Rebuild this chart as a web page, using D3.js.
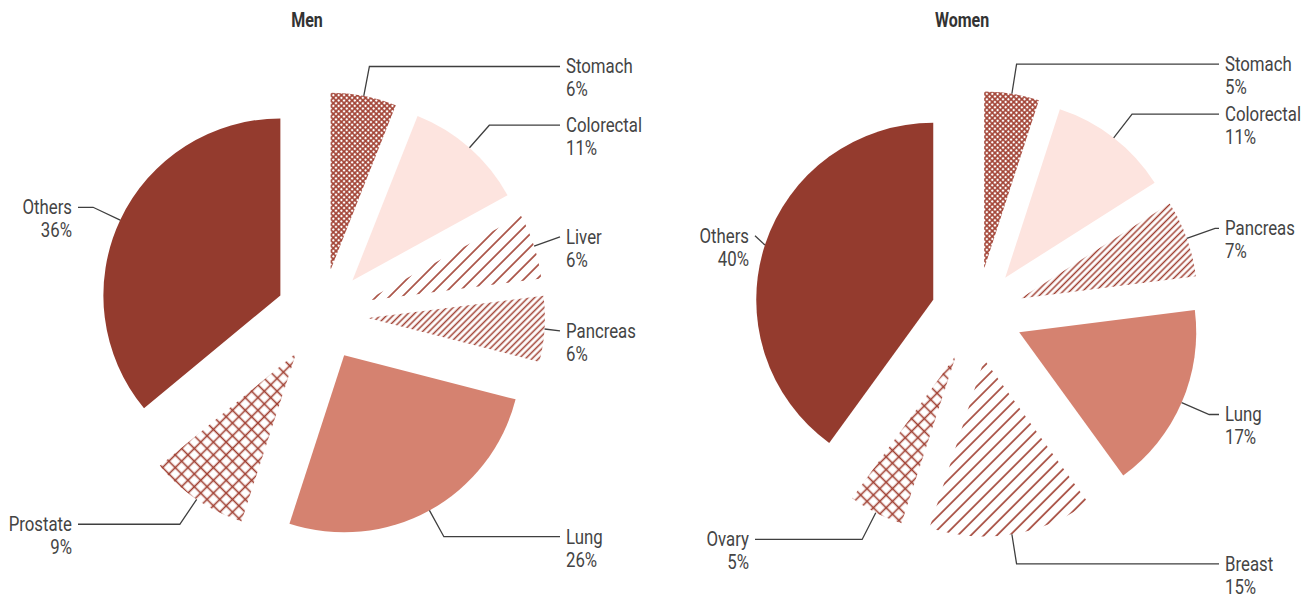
<!DOCTYPE html>
<html>
<head>
<meta charset="utf-8">
<script src="https://cdn.jsdelivr.net/npm/d3@7"></script>
<style>
  html, body { margin: 0; padding: 0; background: #fff; }
  svg { display: block; }
  text { font-family: Roboto, "Liberation Sans", sans-serif; }
</style>
</head>
<body>
<svg id="chart" width="1306" height="607"></svg>
<script>
// ---------------- data ----------------
const menCategories   = ["Stomach", "Colorectal", "Liver", "Pancreas", "Lung", "Prostate", "Others"];
const menValues       = [6, 11, 6, 6, 26, 9, 36];
const womenCategories = ["Stomach", "Colorectal", "Pancreas", "Lung", "Breast", "Ovary", "Others"];
const womenValues     = [5, 11, 7, 17, 15, 5, 40];
const panelTitles     = ["Men", "Women"];

// ---------------- styling / layout ----------------
const R = 177, EXPLODE = 46, LEG = 30;
const HATCH = "#a03f31";
const fills = {
  Stomach: "url(#crossFine)",
  Colorectal: "#fde4df",
  Liver: "url(#diagWide)",
  Pancreas: "url(#diagFine)",
  Lung: "#d58270",
  Prostate: "url(#crossCoarse)",
  Ovary: "url(#crossCoarse)",
  Breast: "url(#diagWide)",
  Others: "#943b2e"
};
const panels = [
  { title: panelTitles[0], cats: menCategories, vals: menValues, cx: 322, cy: 315, rightX: 566, leftX: 72 },
  { title: panelTitles[1], cats: womenCategories, vals: womenValues, cx: 977, cy: 314, rightX: 1225, leftX: 749 }
];
const SX = 0.8; // condensed look

const svg = d3.select("#chart");
const defs = svg.append("defs");

function crossPattern(id, size, sw) {
  const p = defs.append("pattern").attr("id", id).attr("patternUnits", "userSpaceOnUse")
    .attr("width", size).attr("height", size).attr("patternTransform", "rotate(45)");
  p.append("line").attr("x1", size / 2).attr("y1", 0).attr("x2", size / 2).attr("y2", size)
    .attr("stroke", HATCH).attr("stroke-width", sw);
  p.append("line").attr("x1", 0).attr("y1", size / 2).attr("x2", size).attr("y2", size / 2)
    .attr("stroke", HATCH).attr("stroke-width", sw);
}
function diagPattern(id, size, sw) {
  const p = defs.append("pattern").attr("id", id).attr("patternUnits", "userSpaceOnUse")
    .attr("width", size).attr("height", size).attr("patternTransform", "rotate(45)");
  p.append("line").attr("x1", size / 2).attr("y1", 0).attr("x2", size / 2).attr("y2", size)
    .attr("stroke", HATCH).attr("stroke-width", sw);
}
crossPattern("crossFine", 3.8, 1.6);
crossPattern("crossCoarse", 9, 1.6);
diagPattern("diagWide", 9.2, 1.6);
diagPattern("diagFine", 4.6, 1.5);

const pie = d3.pie().sort(null).value(d => d.v);
const arc = d3.arc().innerRadius(0).outerRadius(R);

function condensedText(sel, x, y, str, anchor, size, weight, color) {
  sel.append("text")
    .attr("transform", `translate(${x},${y}) scale(${SX},1)`)
    .attr("text-anchor", anchor)
    .attr("font-size", size)
    .attr("font-weight", weight)
    .attr("fill", color)
    .text(str);
}

panels.forEach(P => {
  const data = P.cats.map((c, i) => ({ c, v: P.vals[i] }));
  const arcs = pie(data);
  const g = svg.append("g");

  condensedText(g, P.cx - 15, 27, P.title, "middle", 20, 700, "#333");

  const labels = [];
  arcs.forEach(a => {
    const mid = (a.startAngle + a.endAngle) / 2;
    const dx = Math.sin(mid), dy = -Math.cos(mid);
    const ax = P.cx + EXPLODE * dx, ay = P.cy + EXPLODE * dy;
    g.append("path")
      .attr("d", arc(a))
      .attr("transform", `translate(${ax},${ay})`)
      .attr("fill", fills[a.data.c]);
    const start = [ax + R * dx, ay + R * dy];
    const elbow = [ax + (R + LEG) * dx, ay + (R + LEG) * dy];
    labels.push({ a, side: dx >= 0 ? 1 : -1, start, elbow, y: elbow[1] });
  });

  // resolve overlaps on each side
  [1, -1].forEach(s => {
    const L = labels.filter(l => l.side === s).sort((p, q) => p.y - q.y);
    for (let i = 1; i < L.length; i++) {
      if (L[i].y - L[i - 1].y < 50) L[i].y = L[i - 1].y + 50;
    }
  });

  labels.forEach(l => {
    const lineEnd = l.side > 0 ? P.rightX - 6 : P.leftX + 6;
    const textX = l.side > 0 ? P.rightX : P.leftX;
    const elbowPastEnd = l.side > 0 ? l.elbow[0] >= lineEnd : l.elbow[0] <= lineEnd;
    const pts = elbowPastEnd
      ? [l.start, [lineEnd, l.y]]
      : [l.start, [l.elbow[0], l.y], [lineEnd, l.y]];
    g.append("path")
      .attr("d", d3.line()(pts))
      .attr("fill", "none")
      .attr("stroke", "#3f3f3f")
      .attr("stroke-width", 1.3);
    const anchor = l.side > 0 ? "start" : "end";
    condensedText(g, textX, l.y + 7, l.a.data.c, anchor, 21, 400, "#444");
    condensedText(g, textX, l.y + 30, l.a.data.v + "%", anchor, 21, 400, "#444");
  });
});
</script>
</body>
</html>
